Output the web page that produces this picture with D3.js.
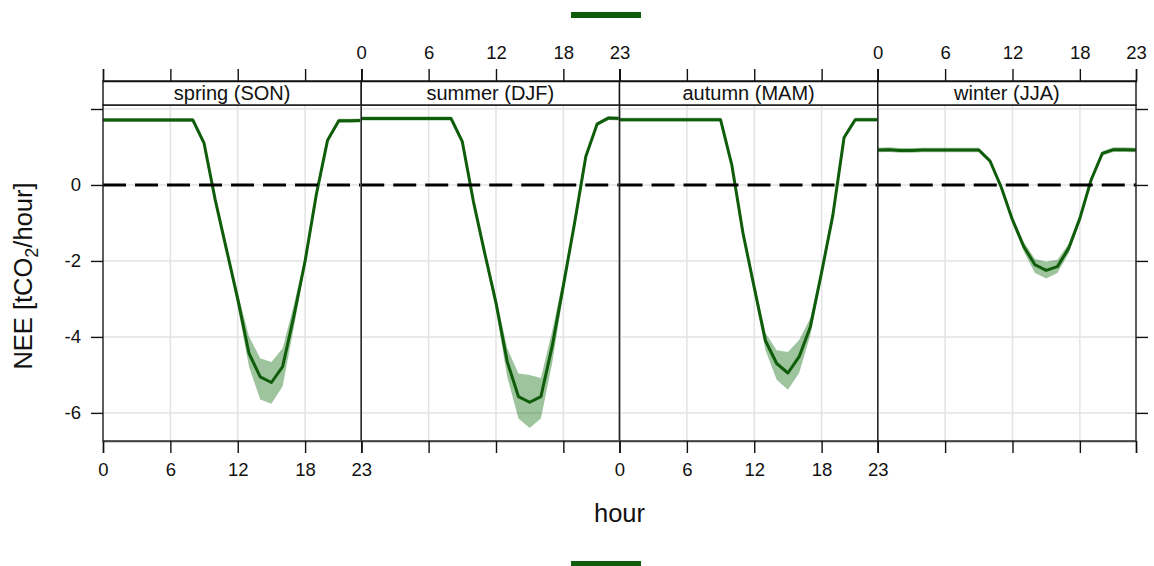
<!DOCTYPE html>
<html>
<head>
<meta charset="utf-8">
<script src="https://cdn.jsdelivr.net/npm/d3@7"></script>
<style>
  html, body { margin: 0; padding: 0; background: #fff; }
  svg { display: block; font-family: "Liberation Sans", Arial, Helvetica, sans-serif; }
</style>
</head>
<body>
<svg id="chart" width="1154" height="566"></svg>
<script>
// ---------- data ----------
const hours = d3.range(0, 24);
const seasons = ["spring (SON)", "summer (DJF)", "autumn (MAM)", "winter (JJA)"];
const xTicks = [0, 6, 12, 18, 23];
const yTicks = [-6, -4, -2, 0, 2];
const yTickLabels = ["-6", "-4", "-2", "0", ""];

const springMean  = [1.71,1.71,1.71,1.71,1.71,1.71,1.71,1.71,1.71,1.10,-0.40,-1.70,-3.00,-4.43,-5.05,-5.20,-4.78,-3.45,-2.00,-0.25,1.18,1.69,1.69,1.70];
const springLower = [1.66,1.66,1.66,1.66,1.66,1.66,1.66,1.66,1.66,1.04,-0.48,-1.80,-3.20,-4.78,-5.65,-5.76,-5.30,-3.75,-2.12,-0.33,1.12,1.64,1.64,1.65];
const springUpper = [1.76,1.76,1.76,1.76,1.76,1.76,1.76,1.76,1.76,1.16,-0.32,-1.60,-2.85,-3.98,-4.56,-4.66,-4.30,-3.15,-1.88,-0.17,1.24,1.74,1.74,1.75];

const summerMean  = [1.75,1.75,1.75,1.75,1.75,1.75,1.75,1.75,1.75,1.14,-0.45,-1.80,-3.10,-4.65,-5.57,-5.72,-5.57,-4.25,-2.65,-1.00,0.75,1.60,1.76,1.75];
const summerLower = [1.70,1.70,1.70,1.70,1.70,1.70,1.70,1.70,1.70,1.08,-0.53,-1.90,-3.30,-5.05,-6.15,-6.40,-6.15,-4.70,-2.85,-1.10,0.69,1.55,1.71,1.70];
const summerUpper = [1.80,1.80,1.80,1.80,1.80,1.80,1.80,1.80,1.80,1.20,-0.37,-1.70,-2.95,-4.30,-4.96,-5.00,-5.08,-3.85,-2.45,-0.90,0.81,1.65,1.81,1.80];

const autumnMean  = [1.72,1.72,1.72,1.72,1.72,1.72,1.72,1.72,1.72,1.72,0.53,-1.27,-2.70,-4.10,-4.70,-4.95,-4.52,-3.73,-2.30,-0.80,1.25,1.72,1.72,1.72];
const autumnLower = [1.67,1.67,1.67,1.67,1.67,1.67,1.67,1.67,1.67,1.67,0.47,-1.35,-2.85,-4.35,-5.13,-5.39,-4.95,-3.95,-2.42,-0.88,1.19,1.67,1.67,1.67];
const autumnUpper = [1.77,1.77,1.77,1.77,1.77,1.77,1.77,1.77,1.77,1.77,0.59,-1.19,-2.55,-3.90,-4.35,-4.40,-4.08,-3.50,-2.20,-0.72,1.31,1.77,1.77,1.77];

const winterMean  = [0.92,0.93,0.91,0.91,0.92,0.92,0.92,0.92,0.92,0.92,0.63,-0.06,-0.92,-1.62,-2.10,-2.25,-2.15,-1.67,-0.88,0.13,0.83,0.93,0.93,0.92];
const winterLower = [0.86,0.87,0.85,0.85,0.86,0.86,0.86,0.86,0.86,0.86,0.57,-0.13,-1.00,-1.75,-2.32,-2.46,-2.32,-1.80,-0.96,0.07,0.77,0.87,0.87,0.86];
const winterUpper = [0.98,0.99,0.97,0.97,0.98,0.98,0.98,0.98,0.98,0.98,0.69,0.01,-0.85,-1.50,-1.95,-2.02,-1.97,-1.55,-0.80,0.19,0.89,0.99,0.99,0.98];

const meanSeries  = [springMean, summerMean, autumnMean, winterMean];
const lowerSeries = [springLower, summerLower, autumnLower, winterLower];
const upperSeries = [springUpper, summerUpper, autumnUpper, winterUpper];

// ---------- layout ----------
const svg = d3.select("#chart");
const plotLeft = 103, plotRight = 1136;
const panelW = (plotRight - plotLeft) / 4;
const stripTop = 81, panelTop = 105, panelBottom = 441;
const lineColor = "#0f5c0a";
const bandColor = "#006400";

const x = d3.scaleLinear().domain([0, 23]).range([0, panelW]);
const y = d3.scaleLinear().domain([-6.74, 2.105]).range([panelBottom, panelTop]);

seasons.forEach((name, i) => {
  const g = svg.append("g").attr("transform", `translate(${plotLeft + i * panelW},0)`);

  // grid
  g.selectAll(".vg").data(xTicks).enter().append("line")
    .attr("x1", d => x(d)).attr("x2", d => x(d))
    .attr("y1", panelTop).attr("y2", panelBottom)
    .attr("stroke", "#e3e3e3").attr("stroke-width", 1.5);
  g.selectAll(".hg").data(yTicks).enter().append("line")
    .attr("x1", 0).attr("x2", panelW)
    .attr("y1", d => y(d)).attr("y2", d => y(d))
    .attr("stroke", "#e3e3e3").attr("stroke-width", 1.5);

  const data = hours.map((h, k) => ({h, m: meanSeries[i][k], lo: lowerSeries[i][k], hi: upperSeries[i][k]}));

  // band
  g.append("path").datum(data)
    .attr("d", d3.area().x(d => x(d.h)).y0(d => y(d.lo)).y1(d => y(d.hi)))
    .attr("fill", bandColor).attr("fill-opacity", 0.38).attr("stroke", "none");

  // mean line
  g.append("path").datum(data)
    .attr("d", d3.line().x(d => x(d.h)).y(d => y(d.m)))
    .attr("fill", "none").attr("stroke", lineColor).attr("stroke-width", 3)
    .attr("stroke-linejoin", "round");

  // reference line at 0
  g.append("line")
    .attr("x1", 0).attr("x2", panelW).attr("y1", y(0)).attr("y2", y(0))
    .attr("stroke", "#000").attr("stroke-width", 3).attr("stroke-dasharray", "23,9");

  // panel frame
  g.append("rect").attr("x", 0).attr("y", panelTop).attr("width", panelW).attr("height", panelBottom - panelTop)
    .attr("fill", "none").attr("stroke", "#222").attr("stroke-width", 1.4);

  // strip
  g.append("rect").attr("x", 0).attr("y", stripTop).attr("width", panelW).attr("height", panelTop - stripTop)
    .attr("fill", "#fff").attr("stroke", "#111").attr("stroke-width", 1.4);
  g.append("text").attr("x", panelW / 2).attr("y", (stripTop + panelTop) / 2 + 7)
    .attr("text-anchor", "middle").attr("font-size", 20).attr("fill", "#111").text(name);

  // bottom axis
  const bottom = g.append("g").attr("transform", `translate(0,${panelBottom})`)
    .call(d3.axisBottom(x).tickValues(xTicks).tickSize(12).tickPadding(10)
      .tickFormat(i % 2 === 0 ? d3.format("d") : () => ""));
  bottom.select(".domain").attr("stroke", "#444").attr("stroke-width", 1.5);
  bottom.selectAll(".tick line").attr("stroke", "#111").attr("stroke-width", 1.4);
  bottom.selectAll("text").attr("font-size", 18.5).attr("fill", "#111").attr("font-family", "Liberation Sans, Arial, sans-serif");

  // top axis
  const top = g.append("g").attr("transform", `translate(0,${stripTop})`)
    .call(d3.axisTop(x).tickValues(xTicks).tickSize(12).tickPadding(10)
      .tickFormat(i % 2 === 1 ? d3.format("d") : () => ""));
  top.select(".domain").attr("stroke", "#111").attr("stroke-width", 1.4);
  top.selectAll(".tick line").attr("stroke", "#111").attr("stroke-width", 1.4);
  top.selectAll("text").attr("font-size", 18.5).attr("fill", "#111").attr("font-family", "Liberation Sans, Arial, sans-serif");
});

// left axis
const left = svg.append("g").attr("transform", `translate(${plotLeft},0)`)
  .call(d3.axisLeft(y).tickValues(yTicks).tickSize(12).tickPadding(10)
    .tickFormat((d, k) => yTickLabels[k]));
left.select(".domain").remove();
left.selectAll(".tick line").attr("stroke", "#111").attr("stroke-width", 1.4);
left.selectAll("text").attr("font-size", 18.5).attr("fill", "#111").attr("font-family", "Liberation Sans, Arial, sans-serif");

// right axis
const right = svg.append("g").attr("transform", `translate(${plotRight},0)`)
  .call(d3.axisRight(y).tickValues(yTicks).tickSize(12).tickFormat(() => ""));
right.select(".domain").remove();
right.selectAll(".tick line").attr("stroke", "#111").attr("stroke-width", 1.4);

// axis titles
svg.append("text").attr("x", (plotLeft + plotRight) / 2).attr("y", 522)
  .attr("text-anchor", "middle").attr("font-size", 25.5).attr("fill", "#111").text("hour");

const yl = svg.append("text").attr("transform", `translate(32,276) rotate(-90)`)
  .attr("text-anchor", "middle").attr("font-size", 25.5).attr("fill", "#111");
yl.append("tspan").text("NEE [tCO");
yl.append("tspan").attr("font-size", 18).attr("dy", 6).text("2");
yl.append("tspan").attr("dy", -6).text("/hour]");

// key lines (top and bottom)
const keyX = d3.scaleLinear().domain([0, 1]).range([571, 641]);
[15, 564].forEach(ky => {
  svg.append("line").attr("x1", keyX(0)).attr("x2", keyX(1)).attr("y1", ky).attr("y2", ky)
    .attr("stroke", lineColor).attr("stroke-width", 6);
});
</script>
</body>
</html>
